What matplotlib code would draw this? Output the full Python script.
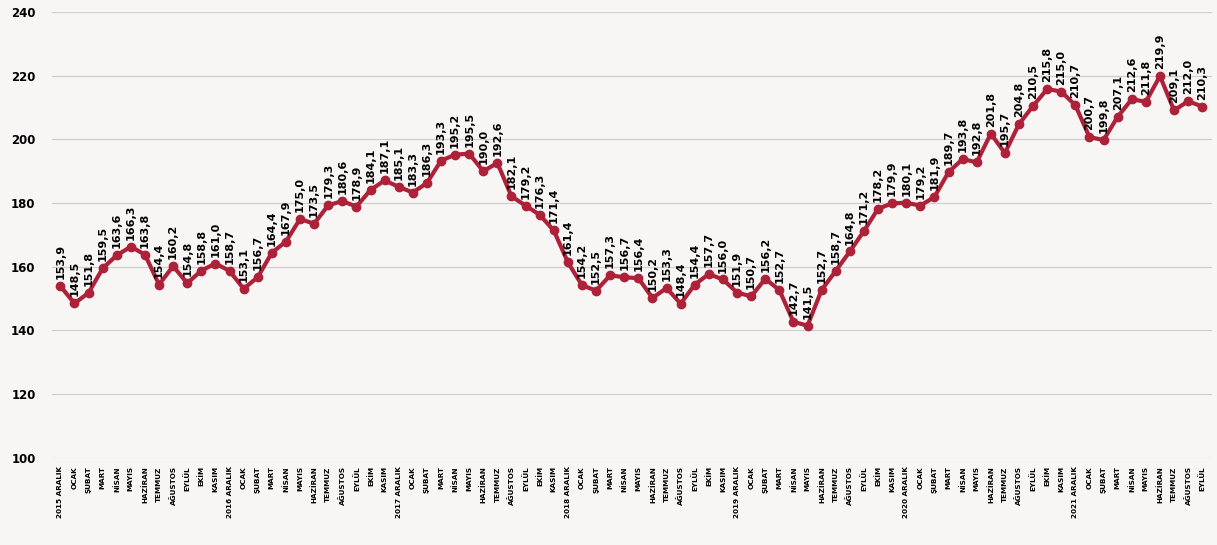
import matplotlib
matplotlib.use("Agg")
import matplotlib.pyplot as plt

plt.rcParams['font.family'] = ['DejaVu Sans']

values = [153.9, 148.5, 151.8, 159.5, 163.6, 166.3, 163.8, 154.4, 160.2, 154.8, 158.8, 161.0,
          158.7, 153.1, 156.7, 164.4, 167.9, 175.0, 173.5, 179.3, 180.6, 178.9, 184.1, 187.1,
          185.1, 183.3, 186.3, 193.3, 195.2, 195.5, 190.0, 192.6, 182.1, 179.2, 176.3, 171.4,
          161.4, 154.2, 152.5, 157.3, 156.7, 156.4, 150.2, 153.3, 148.4, 154.4, 157.7, 156.0,
          151.9, 150.7, 156.2, 152.7, 142.7, 141.5, 152.7, 158.7, 164.8, 171.2, 178.2, 179.9,
          180.1, 179.2, 181.9, 189.7, 193.8, 192.8, 201.8, 195.7, 204.8, 210.5, 215.8, 215.0,
          210.7, 200.7, 199.8, 207.1, 212.6, 211.8, 219.9, 209.1, 212.0, 210.3]

months = ["OCAK", "ŞUBAT", "MART", "NİSAN", "MAYIS", "HAZİRAN", "TEMMUZ",
          "AĞUSTOS", "EYLÜL", "EKİM", "KASIM"]
years = [2015, 2016, 2017, 2018, 2019, 2020, 2021]

labels = []
for y in years:
    labels.append(f"{y} ARALIK")
    labels.extend(months)
labels = labels[:len(values)]

line_color = "#ad2139"
x = list(range(len(values)))

fig = plt.figure(figsize=(12.17, 5.45), dpi=100)
fig.patch.set_facecolor("#f8f5f5")
ax = fig.add_axes([0.043, 0.160, 0.953, 0.818])
ax.set_facecolor("#f8f5f5")

ax.plot(x, values, color=line_color, linewidth=3, marker='o', markersize=6, zorder=3)

for i, v in enumerate(values):
    ax.annotate(f"{v:.1f}".replace(".", ","), (i, v), xytext=(0, 5), textcoords="offset points",
                rotation=90, ha="center", va="bottom", fontsize=8, fontweight="bold",
                color="black", zorder=4)

ax.set_ylim(100, 240)
ax.set_yticks(range(100, 241, 20))
ax.set_xlim(-0.57, len(values) - 0.3)
ax.set_xticks(x)
ax.set_xticklabels(labels, rotation=90, fontsize=5.2, fontweight="bold")
ax.tick_params(axis='y', labelsize=8.5, length=0, pad=12)
ax.tick_params(axis='x', length=0, pad=6)
for lab in ax.get_yticklabels():
    lab.set_fontweight("bold")

ax.grid(axis='y', color="#cfcfcf", linewidth=0.9)
ax.set_axisbelow(True)
for s in ax.spines.values():
    s.set_visible(False)

fig.savefig("out.png", dpi=100, facecolor=fig.get_facecolor())
